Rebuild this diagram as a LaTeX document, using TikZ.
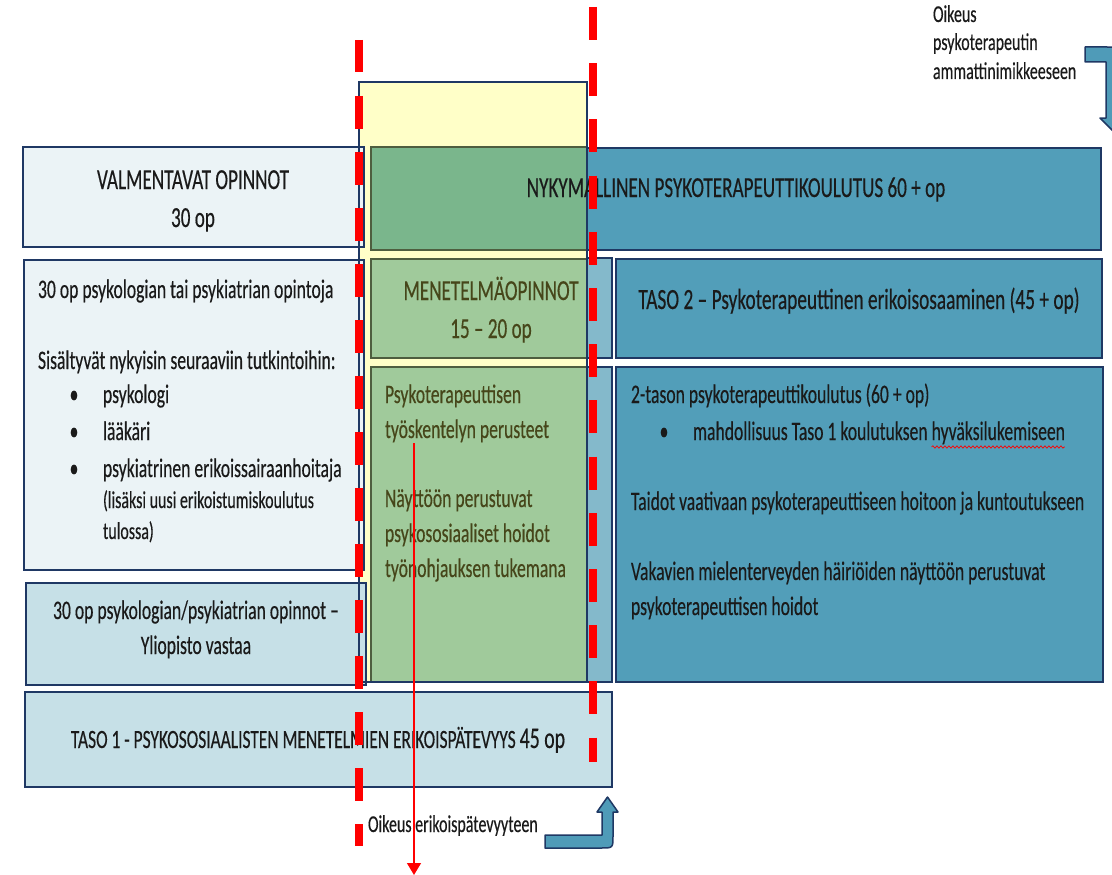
\documentclass[tikz,border=0pt]{standalone}
\usepackage{fontspec}
\setmainfont{Carlito}[FakeStretch=0.66,FakeBold=0.35]
\usetikzlibrary{arrows.meta,decorations.pathmorphing}
\definecolor{navy}{HTML}{1F3864}
\definecolor{lightbox}{HTML}{EBF3F6}
\definecolor{paleblue}{HTML}{C6E0E7}
\definecolor{teal2}{HTML}{529EB9}
\definecolor{stripc}{HTML}{84B9CB}
\definecolor{yel}{HTML}{FFFFC8}
\definecolor{gdark}{HTML}{7AB68C}
\definecolor{glight}{HTML}{A0CA9B}
\definecolor{olivebd}{HTML}{4E5E3F}
\definecolor{olivetx}{HTML}{46461A}
\definecolor{ink}{HTML}{1A1A1A}
\definecolor{arrowfill}{HTML}{4F9BB8}
\newcommand\hdfont{\fontsize{29}{35}\selectfont}
\newcommand\bdfont{\fontsize{26.7}{32}\selectfont}
\newcommand\smfont{\fontsize{24.2}{29}\selectfont}
\tikzset{
  box/.style={draw=navy, line width=2pt, anchor=north west, inner sep=0pt, outer sep=0pt},
  gbox/.style={draw=olivebd, line width=2pt, anchor=north west, inner sep=0pt, outer sep=0pt},
  tl/.style={inner sep=0pt, outer sep=0pt, anchor=base west, text=ink, font=\bdfont},
  tc/.style={inner sep=0pt, outer sep=0pt, anchor=base, text=ink, font=\bdfont},
  reddash/.style={red, line width=8pt},
  blockarrow/.style={draw=navy, line width=1.5pt, fill=arrowfill, line join=round},
}
\begin{document}
\begin{tikzpicture}[x=1pt,y=-1pt]
\useasboundingbox (0,0) rectangle (1112,875);
% background boxes on the right
\node[box, fill=teal2, minimum width=730pt, minimum height=102pt] (nykbg) at (371,148) {};
\node[box, fill=stripc, minimum width=51.5pt, minimum height=100pt] (strip1) at (560,258) {};
\node[box, fill=stripc, minimum width=51.5pt, minimum height=315pt] (strip2) at (560,367) {};
\node[box, fill=teal2, minimum width=486pt, minimum height=99.5pt] (taso2) at (616,258.5) {};
\node[box, fill=teal2, minimum width=487pt, minimum height=315pt] (tason2) at (616,367) {};
% yellow column (fill)
\node[anchor=north west, inner sep=0pt, outer sep=0pt, fill=yel, minimum width=228.5pt, minimum height=599.5pt] (yellow) at (358.5,82.5) {};
% left boxes
\node[box, fill=lightbox, minimum width=341.5pt, minimum height=100pt] (valm) at (22.5,147) {};
\node[box, fill=lightbox, minimum width=340pt, minimum height=310.5pt] (lefttxt) at (24,259.5) {};
\node[box, fill=paleblue, minimum width=340pt, minimum height=102pt] (psyk30) at (26,583) {};
\node[box, fill=paleblue, minimum width=586.5pt, minimum height=95pt] (taso1) at (25,692) {};
% green boxes
\node[gbox, fill=gdark, minimum width=216pt, minimum height=103pt] (gnyk) at (371,147) {};
\node[gbox, fill=glight, minimum width=216pt, minimum height=99pt] (gmen) at (371,259) {};
\node[gbox, fill=glight, minimum width=216pt, minimum height=315pt] (gpsy) at (371,367) {};
% yellow column border on top
\draw[navy, line width=2pt] (yellow.north west) rectangle (yellow.south east);

% texts
\node[tc, font=\hdfont] (valmA) at (193,189) {VALMENTAVAT OPINNOT};
\node[tc, font=\hdfont] (valmB) at (193,227) {30 op};
\node[tl] (l1) at (38,298) {30 op psykologian tai psykiatrian opintoja};
\node[tl] (l2) at (38,369) {Sisältyvät nykyisin seuraaviin tutkintoihin:};
\node[tc] (b1) at (74,403) {•};
\node[tl] (l3) at (103,403) {psykologi};
\node[tc] (b2) at (74,440) {•};
\node[tl] (l4) at (103,440) {lääkäri};
\node[tc] (b3) at (74,477) {•};
\node[tl] (l5) at (103,477) {psykiatrinen erikoissairaanhoitaja};
\node[tl, font=\smfont] (l6) at (103,508) {(lisäksi uusi erikoistumiskoulutus};
\node[tl, font=\smfont] (l7) at (103,539) {tulossa)};
\node[tc] (p1) at (196,619) {30 op psykologian/psykiatrian opinnot –};
\node[tc] (p2) at (196,654) {Yliopisto vastaa};
\node[tc, font=\fontsize{26.4}{31}\selectfont] (t1) at (318,748) {TASO 1 - PSYKOSOSIAALISTEN MENETELMIEN ERIKOISPÄTEVYYS {\fontsize{30}{35}\selectfont 45 op}};

\node[tc, font=\hdfont] (nyk) at (736,197) {NYKYMALLINEN PSYKOTERAPEUTTIKOULUTUS 60 + op};
\node[tc, font=\hdfont, text=olivetx] (men1) at (491,300) {MENETELMÄOPINNOT};
\node[tc, font=\hdfont, text=olivetx] (men2) at (491,338) {15 – 20 op};
\node[tl, text=olivetx] (g1) at (385,403) {Psykoterapeuttisen};
\node[tl, text=olivetx] (g2) at (385,438) {työskentelyn perusteet};
\node[tl, text=olivetx] (g3) at (385,507) {Näyttöön perustuvat};
\node[tl, text=olivetx] (g4) at (385,542) {psykososiaaliset hoidot};
\node[tl, text=olivetx] (g5) at (385,577) {työnohjauksen tukemana};

\node[tc, font=\fontsize{29.3}{35}\selectfont] (taso2t) at (859,309) {TASO 2 – Psykoterapeuttinen erikoisosaaminen (45 + op)};
\node[tl] (r1) at (631,403) {2-tason psykoterapeuttikoulutus (60 + op)};
\node[tc] (rb) at (664,440) {•};
\node[tl] (r2) at (693,440) {mahdollisuus Taso 1 koulutuksen};
\node[tl, xshift=4pt] (r2b) at (r2.base east) {hyväksilukemiseen};
\node[tl] (r3) at (631,510) {Taidot vaativaan psykoterapeuttiseen hoitoon ja kuntoutukseen};
\node[tl] (r4) at (631,580) {Vakavien mielenterveyden häiriöiden näyttöön perustuvat};
\node[tl] (r5) at (631,615) {psykoterapeuttisen hoidot};

\node[tl, font=\smfont] (o1) at (933,22) {Oikeus};
\node[tl, font=\smfont] (o2) at (933,50) {psykoterapeutin};
\node[tl, font=\smfont] (o3) at (933,79) {ammattinimikkeeseen};
\node[tl, font=\smfont] (ob) at (368,832) {Oikeus erikoispätevyyteen};

% spell-check squiggle
\draw[red, line width=0.7pt, decorate, decoration={snake, amplitude=1.2pt, segment length=4pt}]
  ([yshift=-7pt]r2b.base west) -- ([yshift=-7pt]r2b.base east);

% block arrows
\draw[blockarrow] (545,835) -- (602,835) -- (602,812) -- (597,812) -- (607.5,797) -- (618,812) -- (613,812) -- (613,836) .. controls (613,848) .. (601,848) -- (545,848) -- cycle;
\begin{scope}
\clip (0,0) rectangle (1112,875);
\draw[blockarrow] (1085,47) -- (1107,47) .. controls (1120,47) .. (1120,60) -- (1120,118) -- (1126,118) -- (1113,131) -- (1100,118) -- (1106,118) -- (1106,62) -- (1085,62) -- cycle;
\end{scope}

% red dashed lines
\coordinate (dlA) at (359,40);
\coordinate (dlB) at (359,846);
\coordinate (drA) at (592.5,7);
\coordinate (drB) at (592.5,762);
\draw[reddash, dash pattern=on 32.5pt off 23.5pt] (dlA) -- (dlB);
\draw[reddash, dash pattern=on 33pt off 23.2pt] (drA) -- (drB);

% thin red arrow
\coordinate (raS) at (414,443);
\coordinate (raE) at (414,875);
\draw[red, line width=1.3pt, -{Triangle[width=14pt,length=12pt]}] (raS) -- (raE);
\end{tikzpicture}
\end{document}
